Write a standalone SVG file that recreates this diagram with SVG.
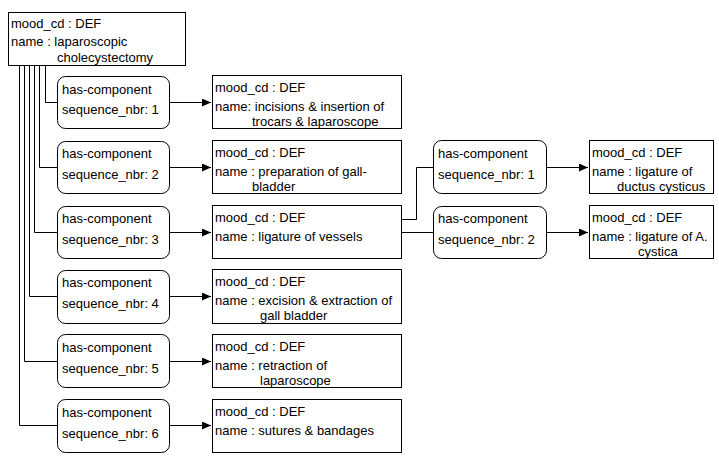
<svg xmlns="http://www.w3.org/2000/svg" width="719" height="464" viewBox="0 0 719 464">
<style>
rect{fill:#fff;stroke:#000;stroke-width:1}
text{font-family:"Liberation Sans",Arial,sans-serif;font-size:13px;fill:#000}
.c{fill:none;stroke:#000;stroke-width:1}
</style>
<defs>
<marker id="ah" markerUnits="userSpaceOnUse" markerWidth="10" markerHeight="8" refX="9" refY="4" orient="auto">
<path d="M0,0 L9,4 L0,8 Z" fill="#000"/>
</marker>
</defs>
<rect width="719" height="464" style="fill:#fff;stroke:none"/>
<g id="connectors">
<path class="c" d="M45.5,65 V102.5 H57"/>
<path class="c" d="M39.5,65 V167.5 H57"/>
<path class="c" d="M34.5,65 V232.5 H57"/>
<path class="c" d="M29.5,65 V296.5 H57"/>
<path class="c" d="M24.5,65 V361.5 H57"/>
<path class="c" d="M19.5,65 V425.5 H57"/>
<path class="c" d="M170,102.5 H211" marker-end="url(#ah)"/>
<path class="c" d="M170,167.5 H211" marker-end="url(#ah)"/>
<path class="c" d="M170,232.5 H211" marker-end="url(#ah)"/>
<path class="c" d="M170,296.5 H211" marker-end="url(#ah)"/>
<path class="c" d="M170,361.5 H211" marker-end="url(#ah)"/>
<path class="c" d="M170,425.5 H211" marker-end="url(#ah)"/>
<path class="c" d="M402,219.5 H416.5 V167.5 H433"/>
<path class="c" d="M402,232.5 H433"/>
<path class="c" d="M547,167.5 H588" marker-end="url(#ah)"/>
<path class="c" d="M547,232.5 H588" marker-end="url(#ah)"/>
</g>
<g id="root">
<rect x="8.5" y="12.5" width="177" height="53"/>
<text x="11" y="28">mood_cd : DEF</text>
<text x="11" y="46">name : laparoscopic</text>
<text x="57" y="61.5">cholecystectomy</text>
</g>
<g id="rel1"><rect x="57.5" y="76.5" width="112" height="52" rx="8"/><text x="62" y="93.5">has-component</text><text x="62" y="114">sequence_nbr: 1</text></g>
<g id="act1"><rect x="212.5" y="75.5" width="189" height="53"/><text x="215" y="92">mood_cd : DEF</text><text x="215" y="110.5">name: incisions &amp; insertion of</text><text x="252" y="126">trocars &amp; laparoscope</text></g>
<g id="rel2"><rect x="57.5" y="141.5" width="112" height="52" rx="8"/><text x="62" y="158">has-component</text><text x="62" y="178.5">sequence_nbr: 2</text></g>
<g id="act2"><rect x="212.5" y="140.5" width="189" height="53"/><text x="215" y="157">mood_cd : DEF</text><text x="215" y="175.5">name : preparation of gall-</text><text x="252" y="191">bladder</text></g>
<g id="rel3"><rect x="57.5" y="206.5" width="112" height="52" rx="8"/><text x="62" y="223">has-component</text><text x="62" y="243.5">sequence_nbr: 3</text></g>
<g id="act3"><rect x="212.5" y="205.5" width="189" height="53"/><text x="215" y="222">mood_cd : DEF</text><text x="215" y="240.5">name : ligature of vessels</text></g>
<g id="rel4"><rect x="57.5" y="270.5" width="112" height="53" rx="8"/><text x="62" y="287">has-component</text><text x="62" y="307.5">sequence_nbr: 4</text></g>
<g id="act4"><rect x="212.5" y="269.5" width="189" height="54"/><text x="215" y="286">mood_cd : DEF</text><text x="215" y="304.5">name : excision &amp; extraction of</text><text x="260" y="320">gall bladder</text></g>
<g id="rel5"><rect x="57.5" y="334.5" width="112" height="53" rx="8"/><text x="62" y="352">has-component</text><text x="62" y="372.5">sequence_nbr: 5</text></g>
<g id="act5"><rect x="212.5" y="334.5" width="189" height="53"/><text x="215" y="351">mood_cd : DEF</text><text x="215" y="369.5">name : retraction of</text><text x="260" y="385">laparoscope</text></g>
<g id="rel6"><rect x="57.5" y="399.5" width="112" height="53" rx="8"/><text x="62" y="417">has-component</text><text x="62" y="437.5">sequence_nbr: 6</text></g>
<g id="act6"><rect x="212.5" y="399.5" width="189" height="53"/><text x="215" y="416">mood_cd : DEF</text><text x="215" y="434.5">name : sutures &amp; bandages</text></g>
<g id="rel3a"><rect x="433.5" y="140.5" width="113" height="53" rx="8"/><text x="438" y="158">has-component</text><text x="438" y="178.5">sequence_nbr: 1</text></g>
<g id="act3a"><rect x="589.5" y="140.5" width="124" height="53"/><text x="592" y="157">mood_cd : DEF</text><text x="592" y="175.5">name : ligature of</text><text x="617" y="191">ductus cysticus</text></g>
<g id="rel3b"><rect x="433.5" y="206.5" width="113" height="52" rx="8"/><text x="438" y="223">has-component</text><text x="438" y="243.5">sequence_nbr: 2</text></g>
<g id="act3b"><rect x="589.5" y="205.5" width="124" height="53"/><text x="592" y="222">mood_cd : DEF</text><text x="592" y="240.5">name : ligature of A.</text><text x="638" y="256">cystica</text></g>
</svg>
